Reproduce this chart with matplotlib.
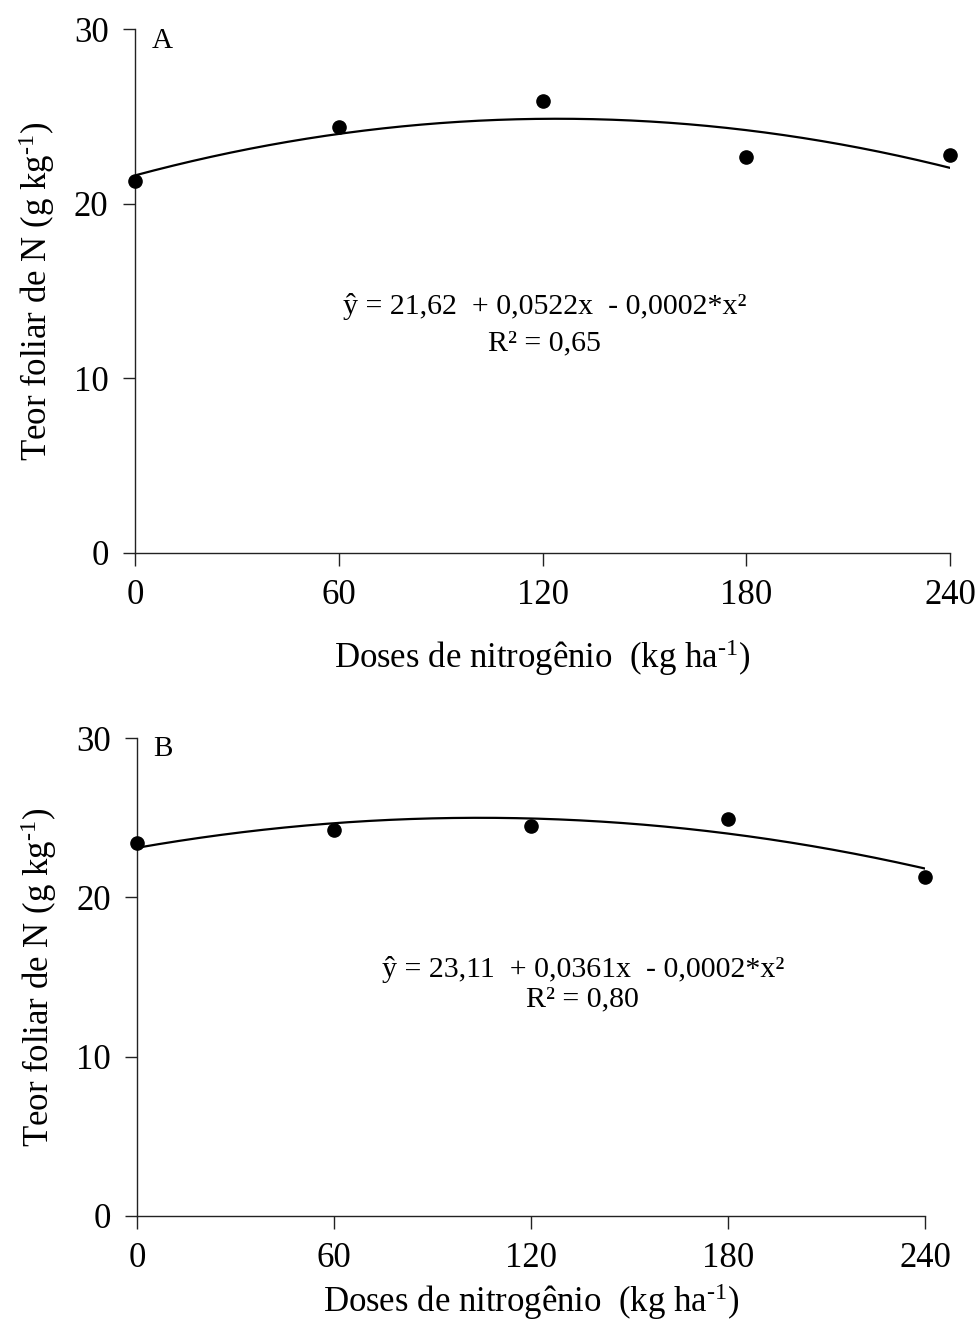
import numpy as np
import matplotlib
matplotlib.use("Agg")
import matplotlib.pyplot as plt

plt.rcParams["font.family"] = ["Liberation Serif", "DejaVu Serif"]
plt.rcParams["mathtext.fontset"] = "custom"
plt.rcParams["mathtext.rm"] = "Liberation Serif"
plt.rcParams["mathtext.it"] = "Liberation Serif:italic"

# Nitrogen doses (kg/ha)
doses = [0, 60, 120, 180, 240]

# Leaf N content (g/kg), panel A and panel B
teor_a = [21.3, 24.4, 25.9, 22.7, 22.8]
teor_b = [23.4, 24.2, 24.5, 24.9, 21.3]

# Quadratic fit coefficients (b0, b1, b2)
coef_a = [21.62, 0.0522, -0.00021]
coef_b = [23.11, 0.0361, -0.000173]

eq_a = "ŷ = 21,62  + 0,0522x  - 0,0002*x²"
r2_a = "R² = 0,65"
eq_b = "ŷ = 23,11  + 0,0361x  - 0,0002*x²"
r2_b = "R² = 0,80"

xticks = [0, 60, 120, 180, 240]
yticks = [0, 10, 20, 30]

fig = plt.figure(figsize=(9.76, 13.21), dpi=100)
ax_a = fig.add_axes([0.1383, 0.5814, 0.8351, 0.3966])
ax_b = fig.add_axes([0.1404, 0.0795, 0.8073, 0.3618])

panels = [
    (ax_a, teor_a, coef_a, "A", eq_a, r2_a, (120.7, 14.1), (120.7, 12.0), 18),
    (ax_b, teor_b, coef_b, "B", eq_b, r2_b, (135.8, 15.5), (135.8, 13.6), 4),
]

xs = np.linspace(0, 240, 300)
for ax, teor, coef, letter, eq, r2, eq_pos, r2_pos, xpad in panels:
    ys = coef[0] + coef[1] * xs + coef[2] * xs ** 2
    ax.plot(xs, ys, color="black", lw=1.6, zorder=2)
    ax.plot(doses, teor, "o", color="black", ms=9.5, zorder=3, clip_on=False)

    ax.set_xlim(0, 240)
    ax.set_ylim(0, 30)
    ax.set_xticks(xticks)
    ax.set_yticks(yticks)
    for s in ("top", "right"):
        ax.spines[s].set_visible(False)
    for s in ("left", "bottom"):
        ax.spines[s].set_linewidth(1.0)
        ax.spines[s].set_color("#222222")
    ax.tick_params(axis="both", direction="out", length=9, width=1.0,
                   labelsize=25, colors="#222222", labelcolor="black")
    ax.tick_params(axis="x", pad=10)
    ax.tick_params(axis="y", pad=10)

    ax.text(5, 29.3, letter, fontsize=21, ha="left", va="center")
    ax.text(eq_pos[0], eq_pos[1], eq, fontsize=21.5, ha="center", va="center")
    ax.text(r2_pos[0], r2_pos[1], r2, fontsize=21.5, ha="center", va="center")

    ax.set_ylabel(r"Teor foliar de N (g kg$^{\text{-1}}$)", fontsize=25, labelpad=12)
    ax.set_xlabel(r"Doses de nitrogênio  (kg ha$^{\text{-1}}$)", fontsize=25, labelpad=xpad)

fig.savefig("out.png", dpi=100, facecolor="white")
